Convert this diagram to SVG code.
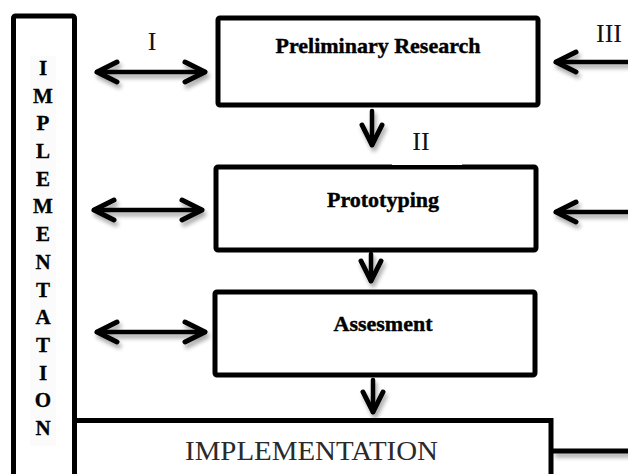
<svg xmlns="http://www.w3.org/2000/svg" width="628" height="474" viewBox="0 0 628 474">
<style>
.box{fill:#fff;stroke:#000;stroke-width:5;stroke-linejoin:round}
.ln{fill:none;stroke:#000;stroke-width:5}
.arr{fill:none;stroke:#000;stroke-width:4.5;stroke-linecap:round}
.title{font-family:"Liberation Serif","Times New Roman",serif;font-weight:bold;font-size:22px;fill:#000;stroke:#000;stroke-width:0.4;text-anchor:middle}
.lab{font-family:"Liberation Serif","Times New Roman",serif;font-size:26px;fill:#111;text-anchor:middle}
.vert{font-family:"Liberation Serif","Times New Roman",serif;font-weight:bold;font-size:21px;fill:#000;stroke:#000;stroke-width:0.3;text-anchor:middle}
.impl{font-family:"Liberation Serif","Times New Roman",serif;font-size:28px;fill:#2a2a2a}
</style>
<defs>
<marker id="head" markerUnits="userSpaceOnUse" markerWidth="30" markerHeight="30" viewBox="-24 -14 30 28" refX="0" refY="0" orient="auto-start-reverse">
<path d="M-20 -10 L0 0 L-20 10" fill="none" stroke="#000" stroke-width="5" stroke-linecap="round" stroke-linejoin="round"/>
</marker>
<filter id="sh" x="-20%" y="-50%" width="140%" height="220%">
<feGaussianBlur in="SourceAlpha" stdDeviation="2"/>
<feOffset dx="2" dy="4" result="b"/>
<feComponentTransfer><feFuncA type="linear" slope="0.35"/></feComponentTransfer>
<feMerge><feMergeNode/><feMergeNode in="SourceGraphic"/></feMerge>
</filter>
</defs>
<rect width="628" height="474" fill="#fff"/>

<g id="implementation-side">
<rect class="box" x="13.5" y="16" width="61" height="480" rx="2"/>
<rect x="30" y="56" width="26" height="390" fill="#fbfbfb"/>
<text class="vert" x="43" y="75">I</text>
<text class="vert" x="43" y="103">M</text>
<text class="vert" x="43" y="130">P</text>
<text class="vert" x="43" y="158">L</text>
<text class="vert" x="43" y="186">E</text>
<text class="vert" x="43" y="213">M</text>
<text class="vert" x="43" y="241">E</text>
<text class="vert" x="43" y="269">N</text>
<text class="vert" x="43" y="297">T</text>
<text class="vert" x="43" y="324">A</text>
<text class="vert" x="43" y="352">T</text>
<text class="vert" x="43" y="380">I</text>
<text class="vert" x="43" y="407">O</text>
<text class="vert" x="43" y="435">N</text>
</g>

<g id="preliminary-research">
<rect class="box" x="218" y="18" width="320" height="87" rx="2"/>
<text class="title" x="378" y="53">Preliminary Research</text>
</g>

<g id="prototyping">
<rect class="box" x="216" y="167" width="320" height="83" rx="2"/>
<text class="title" x="383" y="207">Prototyping</text>
</g>

<g id="assessment">
<rect class="box" x="215" y="292" width="320" height="83" rx="2"/>
<text class="title" x="383" y="331">Assesment</text>
</g>

<g id="implementation-bottom">
<path class="ln" d="M75 420.5 H551 V480"/>
<text class="impl" x="185" y="460" textLength="253" lengthAdjust="spacingAndGlyphs">IMPLEMENTATION</text>
</g>

<g id="connectors" filter="url(#sh)">
<line class="arr" x1="97" y1="72" x2="205" y2="72" marker-start="url(#head)" marker-end="url(#head)"/>
<line class="arr" x1="94" y1="210" x2="202" y2="210" marker-start="url(#head)" marker-end="url(#head)"/>
<line class="arr" x1="97" y1="332" x2="205" y2="332" marker-start="url(#head)" marker-end="url(#head)"/>
<line class="arr" x1="372" y1="111" x2="372" y2="145" marker-end="url(#head)"/>
<line class="arr" x1="371" y1="254" x2="371" y2="281" marker-end="url(#head)"/>
<line class="arr" x1="373" y1="380" x2="373" y2="412" marker-end="url(#head)"/>
<line class="arr" x1="630" y1="62" x2="556" y2="62" marker-end="url(#head)"/>
<line class="arr" x1="630" y1="212" x2="556" y2="212" marker-end="url(#head)"/>
<line class="ln" x1="553" y1="451" x2="630" y2="451"/>
</g>

<g id="labels">
<text class="lab" x="152" y="50">I</text>
<rect x="392" y="159" width="70" height="6" fill="#fff"/>
<text class="lab" x="421" y="150">II</text>
<text class="lab" x="609" y="42">III</text>
</g>
</svg>
